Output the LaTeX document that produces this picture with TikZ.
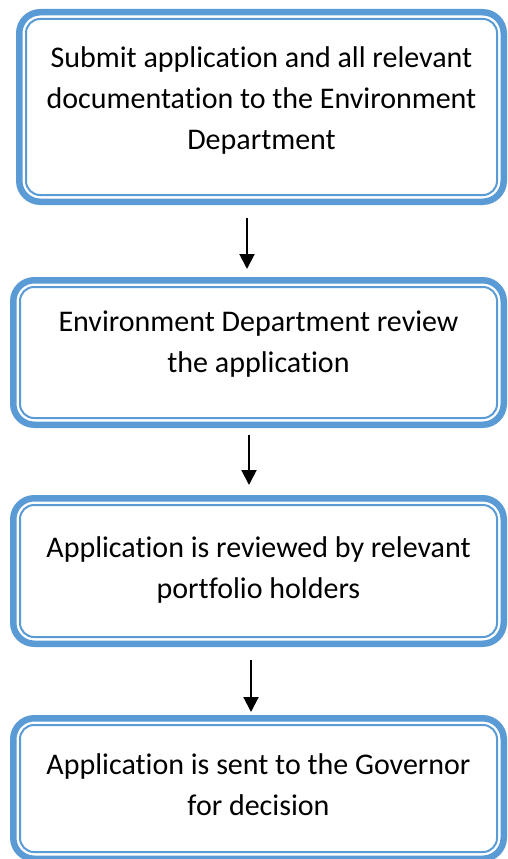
\documentclass[tikz,border=0pt]{standalone}
\usepackage{fontspec}
\setmainfont{Carlito}[Ligatures=NoCommon]
\usetikzlibrary{arrows.meta,positioning}
\definecolor{azul}{HTML}{5B9BD5}
\tikzstyle{caja}=[rectangle,draw=azul,line width=6.5pt,rounded corners=21pt,outer sep=0pt,align=center,font=\fontsize{30}{41}\selectfont]
\tikzstyle{filete}=[draw=azul,line width=2pt,rounded corners=14pt]
\tikzstyle{flecha}=[-{Triangle[length=15pt,width=15pt]},line width=2pt]

\begin{document}
\begin{tikzpicture}[x=1pt,y=-1pt]
	\useasboundingbox (0,0) rectangle (508,859);
	\node[caja,minimum width=484.5pt,minimum height=189.5pt,text depth=17.5pt](sub) at (261.5,107){Submit application and all relevant\\documentation to the Environment\\Department};
	\node[caja,minimum width=490.5pt,minimum height=144.5pt,text depth=21.5pt](rev)[below =78.5pt of sub,xshift=-3pt]{Environment Department review\\the application};
	\node[caja,minimum width=490.5pt,minimum height=145.5pt,text depth=7.5pt](port)[below =73.5pt of rev]{Application is reviewed by relevant\\portfolio holders};
	\node[caja,minimum width=490.5pt,minimum height=140.5pt,text depth=8pt](gov)[below =74.5pt of port]{Application is sent to the Governor\\for decision};
	% filete interior
	\foreach \n in {sub,rev,port,gov}
		\draw[filete]([shift={(6.75pt,-6.75pt)}]\n.north west) rectangle ([shift={(-6.75pt,6.75pt)}]\n.south east);
	\draw[flecha,shorten <=16.25pt,shorten >=11.25pt]([xshift=-11.5pt]rev.north |- sub.south) -- ([xshift=-11.5pt]rev.north);
	\draw[flecha,shorten <=10.25pt,shorten >=13.25pt]([xshift=-9.5pt]port.north |- rev.south) -- ([xshift=-9.5pt]port.north);
	\draw[flecha,shorten <=16.25pt,shorten >=6.25pt]([xshift=-7.5pt]gov.north |- port.south) -- ([xshift=-7.5pt]gov.north);
\end{tikzpicture}
\end{document}
